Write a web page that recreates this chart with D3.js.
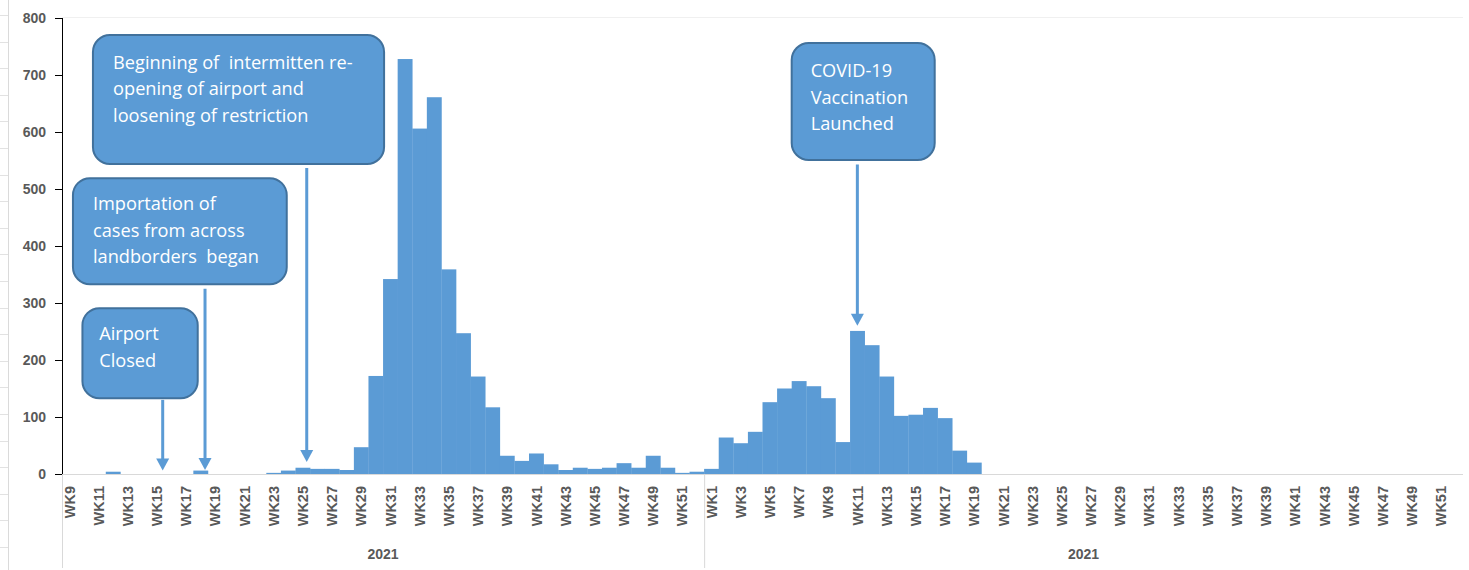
<!DOCTYPE html>
<html>
<head>
<meta charset="utf-8">
<script src="https://cdn.jsdelivr.net/npm/d3@7"></script>
<style>
  html, body { margin: 0; padding: 0; background: #fff; }
  svg { display: block; }
</style>
</head>
<body>
<div id="chart"></div>
<script>
// ---------- data ----------
const year1Weeks = d3.range(9, 53).map(w => "WK" + w);   // WK9 .. WK52
const year2Weeks = d3.range(1, 53).map(w => "WK" + w);   // WK1 .. WK52
const groupLabels = ["2021", "2021"];
const year1Cases = [0, 0, 0, 4, 0, 0, 0, 0, 0, 6, 0, 0, 0, 0, 2, 6, 11, 9, 9, 7,
                    47, 172, 342, 728, 606, 661, 359, 247, 171, 117, 32, 23, 36, 17,
                    7, 11, 9, 11, 19, 11, 32, 11, 2, 4];
const year2Cases = [9, 64, 54, 74, 126, 150, 163, 154, 133, 56, 251, 226, 171, 102, 104,
                    116, 98, 41, 20, 0, 0, 0, 0, 0, 0, 0, 0, 0, 0, 0, 0, 0, 0, 0, 0, 0,
                    0, 0, 0, 0, 0, 0, 0, 0, 0, 0, 0, 0, 0, 0, 0, 0];
const yTicks = [0, 100, 200, 300, 400, 500, 600, 700, 800];
const annotationTexts = [
  ["Airport", "Closed"],
  ["Importation of", "cases from across", "landborders  began"],
  ["Beginning of  intermitten re-", "opening of airport and", "loosening of restriction"],
  ["COVID-19", "Vaccination", "Launched"]
];

// ---------- layout ----------
const W = 1469, H = 570;
const margin = { top: 18, right: 6, bottom: 96, left: 62 };
const innerW = W - margin.left - margin.right;
const innerH = H - margin.top - margin.bottom;

const rows = [];
year1Weeks.forEach((w, i) => rows.push({ key: "1-" + w, label: w, value: year1Cases[i], group: 0 }));
year2Weeks.forEach((w, i) => rows.push({ key: "2-" + w, label: w, value: year2Cases[i], group: 1 }));

const svg = d3.select("#chart").append("svg").attr("width", W).attr("height", H);

// spreadsheet grid remnants at far left
const gridG = svg.append("g");
gridG.append("line").attr("x1", 8.5).attr("x2", 8.5).attr("y1", 0).attr("y2", H)
  .attr("stroke", "#dadada").attr("stroke-width", 1);
d3.range(15, H, 26.6).forEach(yy => {
  gridG.append("line").attr("x1", 0).attr("x2", 8).attr("y1", Math.round(yy) + 0.5).attr("y2", Math.round(yy) + 0.5)
    .attr("stroke", "#e2e2e2");
});

const g = svg.append("g").attr("transform", `translate(${margin.left},${margin.top})`);

const x = d3.scaleBand().domain(rows.map(d => d.key)).range([0, innerW]).padding(0);
const y = d3.scaleLinear().domain([0, 800]).range([innerH, 0]);
const bw = x.step();
const px = i => i * bw;  // fractional category index -> pixel

// faint plot top border
g.append("line").attr("x1", 0).attr("x2", innerW).attr("y1", -0.5).attr("y2", -0.5)
  .attr("stroke", "#f0f0f0");

// bars
g.selectAll("rect.bar").data(rows).join("rect")
  .attr("class", "bar")
  .attr("x", d => x(d.key))
  .attr("width", x.bandwidth() + 0.3)
  .attr("y", d => y(d.value))
  .attr("height", d => y(0) - y(d.value))
  .attr("fill", "#5B9BD5");

// x axis baseline
g.append("line").attr("x1", 0).attr("x2", innerW).attr("y1", innerH + 0.5).attr("y2", innerH + 0.5)
  .attr("stroke", "#d9d9d9").attr("stroke-width", 1.2);

// x tick labels (every other week)
const xAxis = d3.axisBottom(x).tickSize(0)
  .tickValues(rows.filter(d => {
    const n = +d.label.slice(2);
    return n % 2 === 1;
  }).map(d => d.key))
  .tickFormat(k => rows.find(r => r.key === k).label);
const xg = g.append("g").attr("transform", `translate(0,${innerH})`).call(xAxis);
xg.select(".domain").remove();
xg.selectAll("text")
  .attr("transform", "rotate(-90)")
  .attr("x", -12).attr("y", 0).attr("dy", "0.36em")
  .attr("text-anchor", "end")
  .attr("fill", "#595959")
  .style("font-family", "'Liberation Sans', Arial, sans-serif")
  .style("font-weight", "bold")
  .style("font-size", "14.5px");

// group separators and group labels
const n1 = year1Weeks.length;
[0, n1].forEach(i => {
  g.append("line").attr("x1", px(i) + 0.5).attr("x2", px(i) + 0.5)
    .attr("y1", innerH).attr("y2", innerH + 94)
    .attr("stroke", "#d9d9d9").attr("stroke-width", 1);
});
[[0, n1], [n1, rows.length]].forEach(([a, b], gi) => {
  g.append("text").attr("x", (px(a) + px(b)) / 2).attr("y", innerH + 85)
    .attr("text-anchor", "middle").attr("fill", "#595959")
    .style("font-family", "'Liberation Sans', Arial, sans-serif")
    .style("font-weight", "bold").style("font-size", "14px")
    .text(groupLabels[gi]);
});

// y axis
const yAxis = d3.axisLeft(y).tickValues(yTicks).tickSize(7).tickPadding(9);
const yg = g.append("g").call(yAxis);
yg.select(".domain").attr("stroke", "#000").attr("d", `M0.5,${innerH}V0`);
yg.selectAll(".tick line").attr("stroke", "#000");
yg.selectAll("text").attr("fill", "#595959")
  .style("font-family", "'Liberation Sans', Arial, sans-serif")
  .style("font-weight", "bold").style("font-size", "14px");

// ---------- annotations ----------
const boxes = [
  { t: 0, x0: px(1.4), x1: px(9.3), y0: y(291), y1: y(133), tx: px(2.55), firstBase: y(235) },
  { t: 1, x0: px(0.75), x1: px(15.4), y0: y(519), y1: y(333), tx: px(2.12), firstBase: y(463) },
  { t: 2, x0: px(2.12), x1: px(22.07), y0: y(770), y1: y(544), tx: px(3.5), firstBase: y(711) },
  { t: 3, x0: px(50.0), x1: px(59.8), y0: y(756), y1: y(551), tx: px(51.3), firstBase: y(696) }
];
const arrows = [
  { xi: 6.9, from: y(130), to: y(6) },
  { xi: 9.8, from: y(325), to: y(7) },
  { xi: 16.77, from: y(537), to: y(21) },
  { xi: 54.5, from: y(543), to: y(260) }
];

const annG = g.append("g");
arrows.forEach(a => {
  const ax = px(a.xi);
  annG.append("line").attr("x1", ax).attr("x2", ax).attr("y1", a.from).attr("y2", a.to - 9)
    .attr("stroke", "#5B9BD5").attr("stroke-width", 3);
  annG.append("path")
    .attr("d", `M${ax - 6.5},${a.to - 12}L${ax + 6.5},${a.to - 12}L${ax},${a.to}Z`)
    .attr("fill", "#5B9BD5");
});

boxes.forEach(b => {
  annG.append("rect")
    .attr("x", b.x0).attr("y", b.y0)
    .attr("width", b.x1 - b.x0).attr("height", b.y1 - b.y0)
    .attr("rx", 17).attr("ry", 17)
    .attr("fill", "#5B9BD5").attr("stroke", "#41719C").attr("stroke-width", 2);
  const lines = annotationTexts[b.t];
  lines.forEach((ln, i) => {
    annG.append("text")
      .attr("x", b.tx).attr("y", b.firstBase + i * 26.6)
      .attr("fill", "#fff")
      .style("font-family", "'Open Sans', Lato, sans-serif")
      .style("font-size", "18.2px")
      .style("white-space", "pre")
      .attr("xml:space", "preserve")
      .text(ln);
  });
});
</script>
</body>
</html>
